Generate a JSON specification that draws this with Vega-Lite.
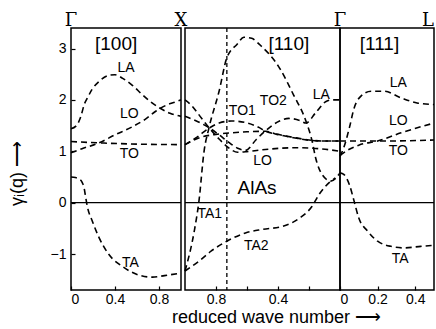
{
  "$schema": "https://vega.github.io/schema/vega-lite/v6.json",
  "background": "white",
  "padding": {"left": 7, "top": 11, "right": 0, "bottom": 0},
  "config": {
    "view": {"stroke": "black", "strokeWidth": 1.5},
    "axis": {"grid": false, "domain": false, "tickColor": "black", "tickSize": -4, "tickWidth": 1.2, "labelColor": "black", "labelFont": "Liberation Sans", "labelFontSize": 14, "titleColor": "black", "titleFont": "Liberation Sans", "titleFontWeight": "normal", "titleFontSize": 18}
  },
  "datasets": {
    "curves": [
      {"p":"100","c":"LA","q":0,"g":1.44},{"p":"100","c":"LA","q":0.045,"g":1.49},{"p":"100","c":"LA","q":0.09,"g":1.68},{"p":"100","c":"LA","q":0.12,"g":1.91},{"p":"100","c":"LA","q":0.15,"g":2.04},{"p":"100","c":"LA","q":0.19,"g":2.2},{"p":"100","c":"LA","q":0.255,"g":2.36},{"p":"100","c":"LA","q":0.345,"g":2.48},{"p":"100","c":"LA","q":0.4,"g":2.49},{"p":"100","c":"LA","q":0.47,"g":2.42},{"p":"100","c":"LA","q":0.55,"g":2.3},{"p":"100","c":"LA","q":0.65,"g":2.1},{"p":"100","c":"LA","q":0.72,"g":1.97},{"p":"100","c":"LA","q":0.8,"g":1.85},{"p":"100","c":"LA","q":0.9,"g":1.74},{"p":"100","c":"LA","q":1.0,"g":1.68},
      {"p":"100","c":"LO","q":0,"g":0.97},{"p":"100","c":"LO","q":0.1,"g":1.05},{"p":"100","c":"LO","q":0.25,"g":1.16},{"p":"100","c":"LO","q":0.4,"g":1.32},{"p":"100","c":"LO","q":0.56,"g":1.48},{"p":"100","c":"LO","q":0.68,"g":1.63},{"p":"100","c":"LO","q":0.77,"g":1.78},{"p":"100","c":"LO","q":0.87,"g":1.9},{"p":"100","c":"LO","q":0.95,"g":1.96},{"p":"100","c":"LO","q":1.0,"g":2.0},
      {"p":"100","c":"TO","q":0,"g":1.19},{"p":"100","c":"TO","q":0.3,"g":1.16},{"p":"100","c":"TO","q":0.6,"g":1.14},{"p":"100","c":"TO","q":1.0,"g":1.13},
      {"p":"100","c":"TA","q":0,"g":0.5},{"p":"100","c":"TA","q":0.04,"g":0.49},{"p":"100","c":"TA","q":0.073,"g":0.46},{"p":"100","c":"TA","q":0.1,"g":0.4},{"p":"100","c":"TA","q":0.118,"g":0.3},{"p":"100","c":"TA","q":0.13,"g":0.15},{"p":"100","c":"TA","q":0.148,"g":-0.07},{"p":"100","c":"TA","q":0.194,"g":-0.36},{"p":"100","c":"TA","q":0.255,"g":-0.68},{"p":"100","c":"TA","q":0.345,"g":-1.01},{"p":"100","c":"TA","q":0.466,"g":-1.24},{"p":"100","c":"TA","q":0.618,"g":-1.41},{"p":"100","c":"TA","q":0.74,"g":-1.45},{"p":"100","c":"TA","q":0.85,"g":-1.42},{"p":"100","c":"TA","q":1.0,"g":-1.37},
      {"p":"110","c":"A","q":1.0,"g":-1.33},{"p":"110","c":"A","q":0.94,"g":-0.55},{"p":"110","c":"A","q":0.91,"g":0.03},{"p":"110","c":"A","q":0.877,"g":1.0},{"p":"110","c":"A","q":0.845,"g":1.46},{"p":"110","c":"A","q":0.78,"g":2.17},{"p":"110","c":"A","q":0.73,"g":2.82},{"p":"110","c":"A","q":0.665,"g":3.08},{"p":"110","c":"A","q":0.62,"g":3.22},{"p":"110","c":"A","q":0.57,"g":3.2},{"p":"110","c":"A","q":0.52,"g":3.08},{"p":"110","c":"A","q":0.39,"g":2.62},{"p":"110","c":"A","q":0.3,"g":2.1},{"p":"110","c":"A","q":0.22,"g":1.59},{"p":"110","c":"A","q":0.18,"g":1.2},{"p":"110","c":"A","q":0.157,"g":0.87},{"p":"110","c":"A","q":0.116,"g":0.55},{"p":"110","c":"A","q":0.06,"g":0.42},{"p":"110","c":"A","q":0,"g":0.58},
      {"p":"110","c":"TA2","q":1.0,"g":-1.33},{"p":"110","c":"TA2","q":0.91,"g":-1.14},{"p":"110","c":"TA2","q":0.83,"g":-0.94},{"p":"110","c":"TA2","q":0.73,"g":-0.75},{"p":"110","c":"TA2","q":0.61,"g":-0.59},{"p":"110","c":"TA2","q":0.5,"g":-0.52},{"p":"110","c":"TA2","q":0.37,"g":-0.46},{"p":"110","c":"TA2","q":0.26,"g":-0.3},{"p":"110","c":"TA2","q":0.18,"g":-0.07},{"p":"110","c":"TA2","q":0.135,"g":0.16},{"p":"110","c":"TA2","q":0.07,"g":0.39},{"p":"110","c":"TA2","q":0.03,"g":0.48},
      {"p":"110","c":"LA","q":0,"g":2.0},{"p":"110","c":"LA","q":0.05,"g":2.0},{"p":"110","c":"LA","q":0.09,"g":1.97},{"p":"110","c":"LA","q":0.157,"g":1.75},{"p":"110","c":"LA","q":0.22,"g":1.55},{"p":"110","c":"LA","q":0.26,"g":1.6},{"p":"110","c":"LA","q":0.33,"g":1.64},{"p":"110","c":"LA","q":0.39,"g":1.59},{"p":"110","c":"LA","q":0.48,"g":1.4},{"p":"110","c":"LA","q":0.54,"g":1.23},{"p":"110","c":"LA","q":0.61,"g":1.02},{"p":"110","c":"LA","q":0.66,"g":1.06},{"p":"110","c":"LA","q":0.72,"g":1.18},{"p":"110","c":"LA","q":0.78,"g":1.32},{"p":"110","c":"LA","q":0.845,"g":1.46},{"p":"110","c":"LA","q":0.92,"g":1.58},{"p":"110","c":"LA","q":1.0,"g":1.68},
      {"p":"110","c":"LO","q":1.0,"g":2.0},{"p":"110","c":"LO","q":0.96,"g":1.9},{"p":"110","c":"LO","q":0.92,"g":1.75},{"p":"110","c":"LO","q":0.845,"g":1.46},{"p":"110","c":"LO","q":0.78,"g":1.24},{"p":"110","c":"LO","q":0.72,"g":1.07},{"p":"110","c":"LO","q":0.66,"g":0.98},{"p":"110","c":"LO","q":0.61,"g":0.99},{"p":"110","c":"LO","q":0.5,"g":1.03},{"p":"110","c":"LO","q":0.28,"g":1.07},{"p":"110","c":"LO","q":0.07,"g":1.03},{"p":"110","c":"LO","q":0,"g":1.0},
      {"p":"110","c":"TO1","q":1.0,"g":1.13},{"p":"110","c":"TO1","q":0.93,"g":1.26},{"p":"110","c":"TO1","q":0.845,"g":1.45},{"p":"110","c":"TO1","q":0.78,"g":1.55},{"p":"110","c":"TO1","q":0.7,"g":1.59},{"p":"110","c":"TO1","q":0.61,"g":1.56},{"p":"110","c":"TO1","q":0.52,"g":1.46},{"p":"110","c":"TO1","q":0.48,"g":1.39},{"p":"110","c":"TO1","q":0.4,"g":1.33},{"p":"110","c":"TO1","q":0.3,"g":1.27},{"p":"110","c":"TO1","q":0.2,"g":1.22},{"p":"110","c":"TO1","q":0.1,"g":1.2},{"p":"110","c":"TO1","q":0,"g":1.2},
      {"p":"110","c":"TO2","q":1.0,"g":1.13},{"p":"110","c":"TO2","q":0.9,"g":1.27},{"p":"110","c":"TO2","q":0.8,"g":1.33},{"p":"110","c":"TO2","q":0.7,"g":1.36},{"p":"110","c":"TO2","q":0.6,"g":1.38},{"p":"110","c":"TO2","q":0.48,"g":1.39},{"p":"110","c":"TO2","q":0.4,"g":1.325},{"p":"110","c":"TO2","q":0.3,"g":1.265},{"p":"110","c":"TO2","q":0.2,"g":1.215},{"p":"110","c":"TO2","q":0.1,"g":1.2},{"p":"110","c":"TO2","q":0,"g":1.2},
      {"p":"111","c":"LA","q":0,"g":0.9},{"p":"111","c":"LA","q":0.02,"g":1.07},{"p":"111","c":"LA","q":0.05,"g":1.46},{"p":"111","c":"LA","q":0.075,"g":1.84},{"p":"111","c":"LA","q":0.11,"g":2.07},{"p":"111","c":"LA","q":0.165,"g":2.17},{"p":"111","c":"LA","q":0.235,"g":2.17},{"p":"111","c":"LA","q":0.325,"g":2.04},{"p":"111","c":"LA","q":0.41,"g":1.94},{"p":"111","c":"LA","q":0.5,"g":1.91},
      {"p":"111","c":"LO","q":0,"g":0.92},{"p":"111","c":"LO","q":0.04,"g":1.02},{"p":"111","c":"LO","q":0.1,"g":1.12},{"p":"111","c":"LO","q":0.2,"g":1.2},{"p":"111","c":"LO","q":0.325,"g":1.36},{"p":"111","c":"LO","q":0.5,"g":1.55},
      {"p":"111","c":"TO","q":0,"g":1.2},{"p":"111","c":"TO","q":0.25,"g":1.2},{"p":"111","c":"TO","q":0.5,"g":1.22},
      {"p":"111","c":"TA","q":0,"g":0.58},{"p":"111","c":"TA","q":0.02,"g":0.55},{"p":"111","c":"TA","q":0.05,"g":0.35},{"p":"111","c":"TA","q":0.075,"g":0.03},{"p":"111","c":"TA","q":0.1,"g":-0.3},{"p":"111","c":"TA","q":0.146,"g":-0.55},{"p":"111","c":"TA","q":0.2,"g":-0.75},{"p":"111","c":"TA","q":0.27,"g":-0.85},{"p":"111","c":"TA","q":0.34,"g":-0.88},{"p":"111","c":"TA","q":0.43,"g":-0.85},{"p":"111","c":"TA","q":0.5,"g":-0.83}
    ],
    "texts": [
      {"p":"100","k":"s","t":"LA","q":0.5,"g":2.62},
      {"p":"100","k":"s","t":"LO","q":0.53,"g":1.73},
      {"p":"100","k":"s","t":"TO","q":0.53,"g":0.94},
      {"p":"100","k":"s","t":"TA","q":0.54,"g":-1.17},
      {"p":"100","k":"b","t":"[100]","q":0.41,"g":3.09},
      {"p":"100","k":"top","t":"Γ","q":0,"g":3.43},
      {"p":"100","k":"top","t":"X","q":1.0,"g":3.43},
      {"p":"110","k":"s","t":"TO1","q":0.63,"g":1.78},
      {"p":"110","k":"s","t":"TO2","q":0.43,"g":1.97},
      {"p":"110","k":"s","t":"LA","q":0.12,"g":2.1},
      {"p":"110","k":"s","t":"LO","q":0.5,"g":0.81},
      {"p":"110","k":"s","t":"TA1","q":0.84,"g":-0.23},
      {"p":"110","k":"s","t":"TA2","q":0.54,"g":-0.85},
      {"p":"110","k":"b","t":"[110]","q":0.33,"g":3.09},
      {"p":"110","k":"b","t":"AlAs","q":0.535,"g":0.29},
      {"p":"110","k":"top","t":"Γ","q":0,"g":3.43},
      {"p":"111","k":"s","t":"LA","q":0.31,"g":2.33},
      {"p":"111","k":"s","t":"LO","q":0.31,"g":1.59},
      {"p":"111","k":"s","t":"TO","q":0.31,"g":1.0},
      {"p":"111","k":"s","t":"TA","q":0.32,"g":-1.1},
      {"p":"111","k":"b","t":"[111]","q":0.21,"g":3.09},
      {"p":"111","k":"topr","t":"L","q":0.5,"g":3.43}
    ],
    "one": [{}]
  },
  "spacing": 4,
  "bounds": "flush",
  "hconcat": [
    {
      "width": 110, "height": 262,
      "layer": [
        {"data": {"name": "curves"}, "transform": [{"filter": "datum.p === '100'"}],
         "mark": {"type": "line", "stroke": "black", "strokeWidth": 1.6, "strokeDash": [6, 4], "interpolate": "monotone"},
         "encoding": {
           "x": {"field": "q", "type": "quantitative", "scale": {"domain": [0, 1], "nice": false, "zero": false},
                 "axis": {"values": [0, 0.2, 0.4, 0.6, 0.8], "format": ".1~f", "labelExpr": "datum.value == 0.2 || datum.value == 0.6 ? '' : datum.label", "title": null, "labelPadding": 6}},
           "y": {"field": "g", "type": "quantitative", "scale": {"domain": [-1.7, 3.4], "nice": false, "zero": false},
                 "axis": {"values": [-1, 0, 1, 2, 3], "title": "γᵢ(q)  ⟶", "titleX": -54, "titleY": 145, "titleAngle": 270, "titleAlign": "center", "titleBaseline": "middle", "labelPadding": 9}},
           "detail": {"field": "c"}
         }},
        {"data": {"name": "one"}, "mark": {"type": "rule", "color": "black", "strokeWidth": 1.2}, "encoding": {"y": {"datum": 0}}},
        {"data": {"name": "texts"}, "transform": [{"filter": "datum.p === '100' && datum.k === 's'"}],
         "mark": {"type": "text", "font": "Liberation Sans", "fontSize": 14, "color": "black"},
         "encoding": {"x": {"field": "q", "type": "quantitative"}, "y": {"field": "g", "type": "quantitative"}, "text": {"field": "t"}}},
        {"data": {"name": "texts"}, "transform": [{"filter": "datum.p === '100' && datum.k === 'b'"}],
         "mark": {"type": "text", "font": "Liberation Sans", "fontSize": 19, "color": "black"},
         "encoding": {"x": {"field": "q", "type": "quantitative"}, "y": {"field": "g", "type": "quantitative"}, "text": {"field": "t"}}},
        {"data": {"name": "texts"}, "transform": [{"filter": "datum.p === '100' && datum.k === 'top'"}],
         "mark": {"type": "text", "font": "DejaVu Serif", "fontSize": 18, "color": "black", "baseline": "alphabetic"},
         "encoding": {"x": {"field": "q", "type": "quantitative"}, "y": {"field": "g", "type": "quantitative"}, "text": {"field": "t"}}}
      ]
    },
    {
      "spacing": 0,
      "bounds": "flush",
      "hconcat": [
        {
          "width": 155, "height": 262,
          "layer": [
            {"data": {"name": "curves"}, "transform": [{"filter": "datum.p === '110'"}],
             "mark": {"type": "line", "stroke": "black", "strokeWidth": 1.6, "strokeDash": [6, 4], "interpolate": "monotone"},
             "encoding": {
               "x": {"field": "q", "type": "quantitative", "scale": {"domain": [0, 1], "reverse": true, "nice": false, "zero": false},
                     "axis": {"values": [0.2, 0.4, 0.6, 0.8], "format": ".1~f", "labelExpr": "datum.value == 0.2 || datum.value == 0.6 ? '' : datum.label", "labelPadding": 6, "title": "reduced wave number  ⟶", "titleX": 91, "titleY": 27, "titleBaseline": "middle"}},
               "y": {"field": "g", "type": "quantitative", "scale": {"domain": [-1.7, 3.4], "nice": false, "zero": false}, "axis": null},
               "detail": {"field": "c"},
               "order": {"field": "q", "sort": "descending"}
             }},
            {"data": {"name": "one"}, "mark": {"type": "rule", "color": "black", "strokeWidth": 1.2}, "encoding": {"y": {"datum": 0}}},
            {"data": {"name": "one"}, "mark": {"type": "rule", "color": "black", "strokeWidth": 1.3, "strokeDash": [4, 3]}, "encoding": {"x": {"datum": 0.73}}},
            {"data": {"name": "texts"}, "transform": [{"filter": "datum.p === '110' && datum.k === 's'"}],
             "mark": {"type": "text", "font": "Liberation Sans", "fontSize": 14, "color": "black"},
             "encoding": {"x": {"field": "q", "type": "quantitative"}, "y": {"field": "g", "type": "quantitative"}, "text": {"field": "t"}}},
            {"data": {"name": "texts"}, "transform": [{"filter": "datum.p === '110' && datum.k === 'b'"}],
             "mark": {"type": "text", "font": "Liberation Sans", "fontSize": 19, "color": "black"},
             "encoding": {"x": {"field": "q", "type": "quantitative"}, "y": {"field": "g", "type": "quantitative"}, "text": {"field": "t"}}},
            {"data": {"name": "texts"}, "transform": [{"filter": "datum.p === '110' && datum.k === 'top'"}],
             "mark": {"type": "text", "font": "DejaVu Serif", "fontSize": 18, "color": "black", "baseline": "alphabetic"},
             "encoding": {"x": {"field": "q", "type": "quantitative"}, "y": {"field": "g", "type": "quantitative"}, "text": {"field": "t"}}}
          ]
        },
        {
          "width": 94, "height": 262,
          "layer": [
            {"data": {"name": "curves"}, "transform": [{"filter": "datum.p === '111'"}],
             "mark": {"type": "line", "stroke": "black", "strokeWidth": 1.6, "strokeDash": [6, 4], "interpolate": "monotone"},
             "encoding": {
               "x": {"field": "q", "type": "quantitative", "scale": {"domain": [0, 0.5], "nice": false, "zero": false},
                     "axis": {"values": [0, 0.1, 0.2, 0.3, 0.4], "format": ".1~f", "labelExpr": "datum.value == 0.1 || datum.value == 0.3 ? '' : datum.label", "labelPadding": 6, "title": null}},
               "y": {"field": "g", "type": "quantitative", "scale": {"domain": [-1.7, 3.4], "nice": false, "zero": false}, "axis": null},
               "detail": {"field": "c"}
             }},
            {"data": {"name": "one"}, "mark": {"type": "rule", "color": "black", "strokeWidth": 1.2}, "encoding": {"y": {"datum": 0}}},
            {"data": {"name": "texts"}, "transform": [{"filter": "datum.p === '111' && datum.k === 's'"}],
             "mark": {"type": "text", "font": "Liberation Sans", "fontSize": 14, "color": "black"},
             "encoding": {"x": {"field": "q", "type": "quantitative"}, "y": {"field": "g", "type": "quantitative"}, "text": {"field": "t"}}},
            {"data": {"name": "texts"}, "transform": [{"filter": "datum.p === '111' && datum.k === 'b'"}],
             "mark": {"type": "text", "font": "Liberation Sans", "fontSize": 19, "color": "black"},
             "encoding": {"x": {"field": "q", "type": "quantitative"}, "y": {"field": "g", "type": "quantitative"}, "text": {"field": "t"}}},
            {"data": {"name": "texts"}, "transform": [{"filter": "datum.p === '111' && datum.k === 'topr'"}],
             "mark": {"type": "text", "font": "DejaVu Serif", "fontSize": 18, "color": "black", "baseline": "alphabetic", "align": "right"},
             "encoding": {"x": {"field": "q", "type": "quantitative"}, "y": {"field": "g", "type": "quantitative"}, "text": {"field": "t"}}}
          ]
        }
      ]
    }
  ]
}
